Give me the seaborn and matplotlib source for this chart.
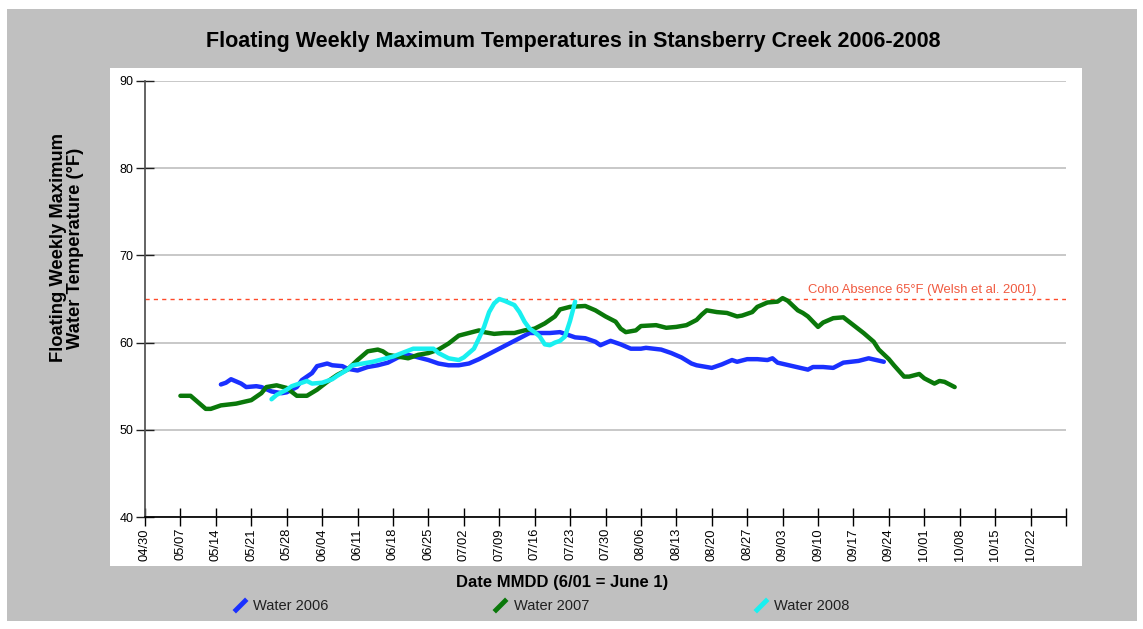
import numpy as np
import pandas as pd
import seaborn as sns
import matplotlib.pyplot as plt
from matplotlib.lines import Line2D
from matplotlib.patches import Rectangle

# days counted from 04/30
day_2006 = [15, 16, 17, 19, 20, 22, 23, 25, 27, 28, 30, 31, 33, 34, 36, 37, 39, 40,
            42, 44, 46, 48, 50, 52, 54, 56, 58, 60, 62, 64, 66, 68, 70, 72, 74, 76,
            78, 80, 82, 83, 85, 87, 89, 90, 92, 94, 96, 98, 99, 102, 104, 106, 108,
            109, 110, 112, 114, 116, 117, 119, 121, 123, 124, 125, 128, 131, 132,
            134, 136, 138, 141, 143, 146]
temp_2006 = [55.2, 55.4, 55.8, 55.3, 54.9, 55.0, 54.9, 54.4, 54.2, 54.3, 54.9, 55.7,
             56.5, 57.3, 57.6, 57.4, 57.3, 57.0, 56.8, 57.2, 57.4, 57.7, 58.3, 58.6,
             58.3, 58.0, 57.6, 57.4, 57.4, 57.6, 58.1, 58.7, 59.3, 59.9, 60.5, 61.1,
             61.1, 61.1, 61.2, 61.0, 60.6, 60.5, 60.1, 59.7, 60.2, 59.8, 59.3, 59.3,
             59.4, 59.2, 58.8, 58.3, 57.6, 57.4, 57.3, 57.1, 57.5, 58.0, 57.8, 58.1,
             58.1, 58.0, 58.2, 57.7, 57.3, 56.9, 57.2, 57.2, 57.1, 57.7, 57.9, 58.2,
             57.8]

day_2007 = [7, 9, 12, 13, 15, 18, 21, 23, 24, 26, 28, 30, 32, 34, 36, 38, 40, 42, 44,
            46, 47, 48, 50, 52, 54, 56, 58, 60, 62, 64, 66, 67, 69, 71, 73, 75, 77,
            79, 81, 82, 84, 87, 89, 91, 93, 94, 95, 97, 98, 101, 103, 105, 107, 109,
            110, 111, 113, 115, 117, 118, 120, 121, 123, 125, 126, 127, 129, 130,
            131, 133, 134, 136, 138, 140, 142, 144, 145, 147, 148, 150, 151, 153,
            154, 156, 157, 158, 160]
temp_2007 = [53.9, 53.9, 52.4, 52.4, 52.8, 53.0, 53.4, 54.2, 54.9, 55.1, 54.8, 53.9,
             53.9, 54.6, 55.5, 56.3, 56.9, 58.0, 59.0, 59.2, 59.0, 58.6, 58.4, 58.2,
             58.6, 58.8, 59.2, 59.9, 60.8, 61.1, 61.4, 61.2, 61.0, 61.1, 61.1, 61.4,
             61.6, 62.2, 63.0, 63.8, 64.1, 64.2, 63.7, 63.0, 62.4, 61.6, 61.2, 61.4,
             61.9, 62.0, 61.7, 61.8, 62.0, 62.6, 63.2, 63.7, 63.5, 63.4, 63.0, 63.1,
             63.5, 64.1, 64.6, 64.7, 65.1, 64.8, 63.7, 63.4, 63.0, 61.8, 62.3, 62.8,
             62.9, 62.0, 61.1, 60.1, 59.2, 58.1, 57.4, 56.1, 56.1, 56.4, 55.9, 55.3,
             55.6, 55.5, 54.9]

day_2008 = [25, 26, 28, 29, 32, 33, 35, 37, 38, 40, 41, 45, 49, 53, 57, 58, 60, 62,
            63, 65, 66, 67, 68, 69, 70, 71, 73, 74, 75, 76, 77, 78, 79, 80, 81, 82,
            83, 84, 85]
temp_2008 = [53.5, 54.0, 54.6, 55.0, 55.6, 55.3, 55.4, 55.8, 56.2, 56.9, 57.4, 57.8,
             58.4, 59.3, 59.3, 58.8, 58.2, 58.0, 58.3, 59.3, 60.5, 61.8, 63.5, 64.5,
             65.0, 64.8, 64.3, 63.5, 62.4, 61.6, 61.2, 60.7, 59.8, 59.7, 60.0, 60.2,
             60.7, 62.5, 64.7]

series_names = ["Water 2006", "Water 2007", "Water 2008"]
series_colors = ["#1a30ff", "#0a780a", "#18f0f0"]

tick_labels = ["04/30", "05/07", "05/14", "05/21", "05/28", "06/04", "06/11",
               "06/18", "06/25", "07/02", "07/09", "07/16", "07/23", "07/30",
               "08/06", "08/13", "08/20", "08/27", "09/03", "09/10", "09/17",
               "09/24", "10/01", "10/08", "10/15", "10/22", ""]

coho_limit = 65
coho_label = "Coho Absence 65°F (Welsh et al. 2001)"

df = pd.concat([
    pd.DataFrame({"day": day_2006, "temp": temp_2006, "series": series_names[0]}),
    pd.DataFrame({"day": day_2007, "temp": temp_2007, "series": series_names[1]}),
    pd.DataFrame({"day": day_2008, "temp": temp_2008, "series": series_names[2]}),
])

sns.set_theme(style="white")
plt.rcParams["font.family"] = ["Liberation Sans", "DejaVu Sans"]
plt.rcParams["text.color"] = "black"

W, H = 1143, 629
fig = plt.figure(figsize=(W / 100, H / 100), dpi=100, facecolor="white")

# grey frame and white plot panel
fig.patches.append(Rectangle((7 / W, 1 - 621 / H), 1130 / W, 612 / H,
                             transform=fig.transFigure, facecolor="#c0c0c0",
                             edgecolor="none", zorder=-10))
fig.patches.append(Rectangle((110 / W, 1 - 566 / H), 972 / W, 498 / H,
                             transform=fig.transFigure, facecolor="white",
                             edgecolor="none", zorder=-9))

ax = fig.add_axes([145 / W, 1 - 517 / H, (1066 - 145) / W, (517 - 81) / H])
ax.set_facecolor("none")
ax.set_zorder(5)

sns.lineplot(data=df, x="day", y="temp", hue="series", palette=series_colors,
             hue_order=series_names, linewidth=3.2, legend=False, sort=False,
             estimator=None, ax=ax, zorder=3)

ax.axhline(coho_limit, color="#ff4a2a", lw=1, ls=(0, (3, 3)), zorder=2)
ax.text(176.2, coho_limit + 0.35, coho_label, color="#f05a40", fontsize=9.4,
        ha="right", va="bottom")

ax.set_xlim(0, 182)
ax.set_ylim(40, 90)
ax.set_xticks(np.arange(0, 183, 7))
ax.set_xticklabels(tick_labels, rotation=90, fontsize=9.3)
ax.set_yticks([40, 50, 60, 70, 80, 90])
ax.tick_params(axis="y", direction="inout", length=13, width=1, color="#202020",
               pad=2, labelsize=9, left=True, labelcolor="black")
ax.tick_params(axis="x", direction="inout", length=13, width=1, color="black",
               pad=1.5, bottom=True, labelcolor="black")
ax.yaxis.grid(True, color="#c8c8c8", lw=1.4)
ax.set_axisbelow(True)
for s in ["top", "right"]:
    ax.spines[s].set_visible(False)
ax.spines["left"].set_color("#505050")
ax.spines["bottom"].set_color("black")

ax.set_xlabel("")
ax.set_ylabel("")
fig.text(562 / W, 1 - 583 / H, "Date MMDD (6/01 = June 1)", fontsize=12,
         fontweight="bold", ha="center", va="center")
fig.text(67 / W, 1 - 248 / H, "Floating Weekly Maximum\nWater Temperature (°F)",
         fontsize=13.2, fontweight="bold", rotation=90, ha="center", va="center",
         linespacing=1.0)
fig.text(573 / W, 1 - 42 / H,
         "Floating Weekly Maximum Temperatures in Stansberry Creek 2006-2008",
         fontsize=15.5, fontweight="bold", ha="center", va="center")

handles = [Line2D([], [], color=c, lw=0, marker=[(-1, -1), (1, 1)], markersize=9,
                  markeredgewidth=3.5) for c in series_colors]
fig.legend(handles, series_names, loc="center", bbox_to_anchor=(541 / W, 1 - 606 / H),
           ncol=3, frameon=False, fontsize=10.5, handlelength=1.0, handletextpad=0.4,
           columnspacing=11.3, labelcolor="#202020")

fig.savefig("out.png", dpi=100, facecolor="white")
